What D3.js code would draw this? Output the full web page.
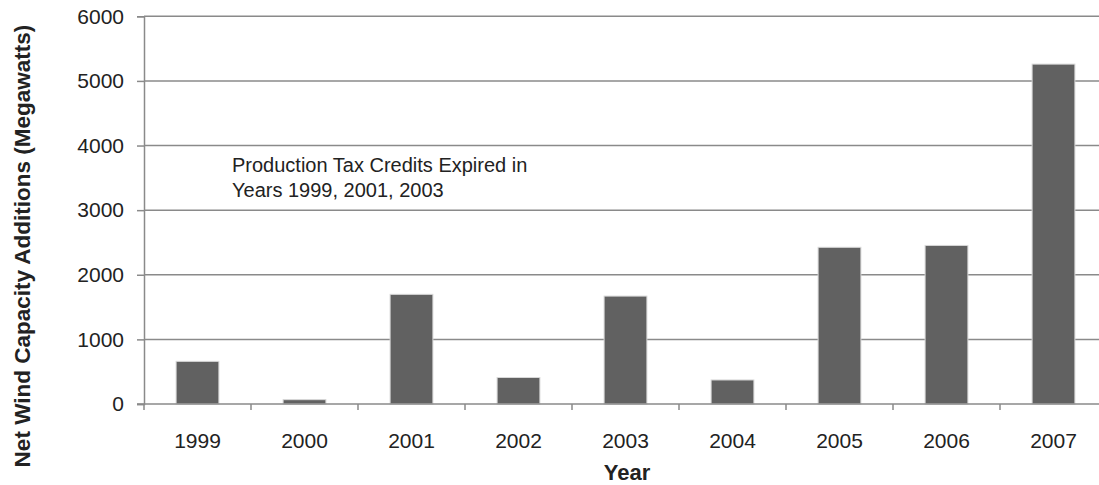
<!DOCTYPE html>
<html><head><meta charset="utf-8">
<script src="https://cdn.jsdelivr.net/npm/d3@7"></script>
<style>
body{margin:0;background:#fff;}
svg{display:block;font-family:"Liberation Sans",Arial,sans-serif;}
</style></head>
<body>
<svg id="chart" width="1099" height="485"></svg>
<script>
const years = ["1999","2000","2001","2002","2003","2004","2005","2006","2007"];
const capacity = [660, 67, 1697, 410, 1670, 372, 2425, 2454, 5260];
const yTicks = [0, 1000, 2000, 3000, 4000, 5000, 6000];
const noteLines = ["Production Tax Credits Expired in", "Years 1999, 2001, 2003"];

(function () {
const svg = d3.select("#chart");
const pLeft = 144, pRight = 1107, pTop = 16.3, pBottom = 404;

const x = d3.scaleBand().domain(years).range([pLeft, pRight]).paddingInner(0.6).paddingOuter(0.3);
const xb = d3.scaleBand().domain(years).range([pLeft, pRight]);
const y = d3.scaleLinear().domain([0, 6000]).range([pBottom, pTop]);

const grid = "#8a8a8a";
svg.append("g").selectAll("line").data(yTicks.slice(1)).join("line")
  .attr("x1", pLeft).attr("x2", 1099).attr("y1", d => y(d)).attr("y2", d => y(d))
  .attr("stroke", grid).attr("stroke-width", 1.5);

const ya = svg.append("g").attr("transform", `translate(${pLeft},0)`)
  .call(d3.axisLeft(y).tickValues(yTicks).tickSize(7).tickPadding(13).tickFormat(d3.format("d")));
ya.select(".domain").attr("stroke", grid).attr("stroke-width", 1.5);
ya.selectAll(".tick line").attr("stroke", grid).attr("stroke-width", 1.5);
ya.selectAll("text").attr("font-size", 21).attr("fill", "#222").attr("font-family", "Liberation Sans, Arial, sans-serif");

svg.append("g").selectAll("rect").data(years).join("rect")
  .attr("x", (d) => x(d)).attr("width", x.bandwidth())
  .attr("y", (d, i) => y(capacity[i])).attr("height", (d, i) => pBottom - y(capacity[i]))
  .attr("fill", "#616161").attr("stroke", "#d8d8d8").attr("stroke-width", 1);

const xAxisG = svg.append("g").attr("transform", `translate(0,${pBottom})`);
xAxisG.append("line").attr("x1", pLeft - 7).attr("x2", 1099).attr("y1", 0).attr("y2", 0)
  .attr("stroke", grid).attr("stroke-width", 1.5);
const tickPos = years.map(d => xb(d)).concat([xb(years[years.length-1]) + xb.bandwidth()]);
xAxisG.selectAll("line.t").data(tickPos).join("line").attr("class", "t")
  .attr("x1", d => d).attr("x2", d => d).attr("y1", 0).attr("y2", 6)
  .attr("stroke", grid).attr("stroke-width", 1.5);
xAxisG.selectAll("text").data(years).join("text")
  .attr("x", d => xb(d) + xb.bandwidth() / 2).attr("y", 43.5)
  .attr("text-anchor", "middle").attr("font-size", 21).attr("fill", "#222").text(d => d);

svg.append("text").attr("x", 627).attr("y", 480)
  .attr("text-anchor", "middle").attr("font-size", 22).attr("font-weight", "bold").attr("fill", "#222").text("Year");
svg.append("text").attr("transform", "translate(30,246) rotate(-90)")
  .attr("text-anchor", "middle").attr("font-size", 22.5).attr("font-weight", "bold").attr("fill", "#222")
  .text("Net Wind Capacity Additions (Megawatts)");

svg.append("g").selectAll("text").data(noteLines).join("text")
  .attr("x", 232).attr("y", (d, i) => 172 + i * 25)
  .attr("font-size", 20).attr("fill", "#222").text(d => d);
})();
</script>
</body></html>
